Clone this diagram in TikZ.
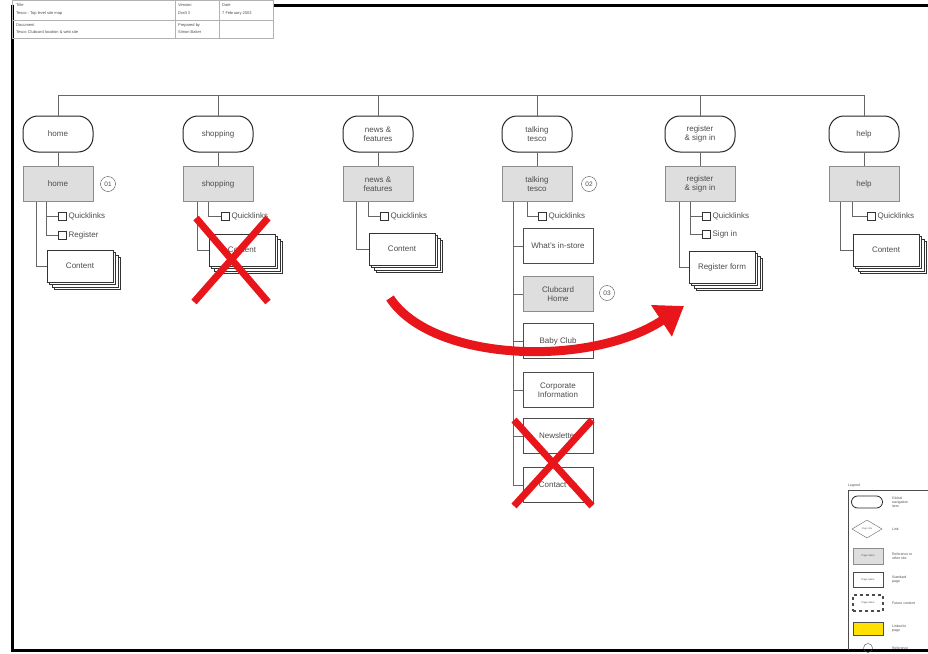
\documentclass[tikz,border=0pt]{standalone}
\usepackage{fontspec}
\setmainfont{Liberation Sans}
\usepackage{xcolor}
\usepackage{tikz}
\usetikzlibrary{shapes.geometric,shadows,arrows.meta,calc}
\definecolor{markred}{HTML}{E8151B}
\definecolor{sectgray}{HTML}{DEDEDE}
\definecolor{legyellow}{HTML}{FFE000}

\begin{document}
\begin{tikzpicture}[
    x=1pt, y=-1pt,
    term/.style={rectangle, draw=black!85, line width=1pt, rounded corners=15pt, fill=white, minimum width=70pt, minimum height=36pt, align=center, font=\fontsize{8}{9}\selectfont, text=black!70},
    sect/.style={rectangle, draw=black!45, fill=sectgray, minimum width=70pt, minimum height=35pt, align=center, font=\fontsize{8}{9}\selectfont, text=black!70},
    page/.style={rectangle, draw=black!70, line width=0.9pt, fill=white, minimum width=70pt, minimum height=35pt, align=center, font=\fontsize{8}{9}\selectfont, text=black!70},
    stack/.style={rectangle, draw=black!80, fill=white, minimum width=66pt, minimum height=32pt, font=\fontsize{8}{9}\selectfont, text=black!70,
        copy shadow={shadow xshift=7.5pt, shadow yshift=-7.5pt},
        copy shadow={shadow xshift=5pt, shadow yshift=-5pt},
        copy shadow={shadow xshift=2.5pt, shadow yshift=-2.5pt}},
    chk/.style={rectangle, draw=black!80, fill=white, minimum size=8.5pt, inner sep=0pt},
    lbl/.style={font=\fontsize{8}{9}\selectfont, text=black!70, inner sep=2pt},
    ref/.style={circle, draw=black!70, minimum size=15pt, inner sep=0pt, font=\fontsize{6.5}{7}\selectfont, text=black!70},
    line/.style={draw=black!60, line width=0.6pt},
    cross/.style={draw=markred, line width=7pt},
    bigarrow/.style={draw=markred, line width=9pt, -{Triangle[length=27pt,width=36pt]}},
    tbl/.style={draw=black!30, line width=0.4pt},
    tbltxt/.style={anchor=west, font=\fontsize{4}{4.5}\selectfont, text=black!70, inner sep=0pt},
    legtxt/.style={anchor=west, font=\fontsize{3.5}{4}\selectfont, text=black!70, inner sep=0pt, align=left}
]
\useasboundingbox (0,0) rectangle (928,653);

% Frame and title block
\draw[line width=3pt] (273,5) -- (928,5);
\draw[line width=3pt] (12,5) -- (12,650) -- (928,650);
\draw[tbl] (12,0) rectangle (273,38);
\draw[tbl] (12,20) -- (273,20);
\draw[tbl] (175,0) -- (175,38);
\draw[tbl] (219,0) -- (219,38);
\node[tbltxt] at (16,5) {Title};
\node[tbltxt] at (16,13) {Tesco - Top level site map};
\node[tbltxt] at (16,25) {Document};
\node[tbltxt] at (16,32) {Tesco Clubcard location \& web site};
\node[tbltxt] at (178,5) {Version};
\node[tbltxt] at (178,13) {Draft 3};
\node[tbltxt] at (222,5) {Date};
\node[tbltxt] at (222,13) {7 February 2003};
\node[tbltxt] at (178,25) {Prepared by};
\node[tbltxt] at (178,32) {Simon Baker};

% Global navigation
\node[term] (homeT) at (58,134) {home};
\node[term] (shopT) at (218,134) {shopping};
\node[term] (newsT) at (378,134) {news \&\\features};
\node[term] (talkT) at (537,134) {talking\\tesco};
\node[term] (regT) at (700,134) {register\\\& sign in};
\node[term] (helpT) at (864,134) {help};
\coordinate (busL) at (58,95);
\coordinate (busR) at (864,95);
\draw[line] (homeT.north) -- (busL) -- (busR) -- (helpT.north);
\draw[line] (shopT.north) -- (shopT.north |- busL);
\draw[line] (newsT.north) -- (newsT.north |- busL);
\draw[line] (talkT.north) -- (talkT.north |- busL);
\draw[line] (regT.north) -- (regT.north |- busL);

% Section pages
\node[sect] (homeP) at (58,184) {home};
\node[sect] (shopP) at (218,184) {shopping};
\node[sect] (newsP) at (378,184) {news \&\\features};
\node[sect] (talkP) at (537,184) {talking\\tesco};
\node[sect] (regP) at (700,184) {register\\\& sign in};
\node[sect] (helpP) at (864,184) {help};
\draw[line] (homeT) -- (homeP);
\draw[line] (shopT) -- (shopP);
\draw[line] (newsT) -- (newsP);
\draw[line] (talkT) -- (talkP);
\draw[line] (regT) -- (regP);
\draw[line] (helpT) -- (helpP);
\node[ref] (ref01) at (108,184) {01};
\node[ref] (ref02) at (589,184) {02};

% home
\node[chk, label={[lbl]right:Quicklinks}] (homeQ) at (62,216) {};
\node[chk, label={[lbl]right:Register}] (homeR) at (62,235) {};
\node[stack] (homeC) at (80,266) {Content};
\draw[line] ([xshift=-12pt]homeP.south) |- (homeR);
\draw[line] ([xshift=-12pt]homeP.south) |- (homeQ);
\draw[line] ([xshift=-22pt]homeP.south) |- (homeC);

% shopping
\node[chk, label={[lbl]right:Quicklinks}] (shopQ) at (225,216) {};
\node[stack] (shopC) at (242,250) {Content};
\draw[line] ([xshift=-10pt]shopP.south) |- (shopQ);
\draw[line] ([xshift=-21pt]shopP.south) |- (shopC);

% news & features
\node[chk, label={[lbl]right:Quicklinks}] (newsQ) at (384,216) {};
\node[stack] (newsC) at (402,249) {Content};
\draw[line] ([xshift=-10pt]newsP.south) |- (newsQ);
\draw[line] ([xshift=-22pt]newsP.south) |- (newsC);

% talking tesco
\node[chk, label={[lbl]right:Quicklinks}] (talkQ) at (542,216) {};
\node[page] (talk1) at (558,246) {What's in-store};
\node[sect] (talk2) at (558,294) {Clubcard\\Home};
\node[page] (talk3) at (558,341) {Baby Club};
\node[page] (talk4) at (558,390) {Corporate\\Information};
\node[page] (talk5) at (558,436) {Newsletter};
\node[page] (talk6) at (558,485) {Contact us};
\node[ref] (ref03) at (607,293) {03};
\coordinate (talkS) at ([xshift=-24pt]talkP.south);
\draw[line] ([xshift=-10pt]talkP.south) |- (talkQ);
\draw[line] (talkS) |- (talk6);
\draw[line] (talk1.west) -- (talk1.west -| talkS);
\draw[line] (talk2.west) -- (talk2.west -| talkS);
\draw[line] (talk3.west) -- (talk3.west -| talkS);
\draw[line] (talk4.west) -- (talk4.west -| talkS);
\draw[line] (talk5.west) -- (talk5.west -| talkS);

% register & sign in
\node[chk, label={[lbl]right:Quicklinks}] (regQ) at (706,216) {};
\node[chk, label={[lbl]right:Sign in}] (regS) at (706,234) {};
\node[stack] (regC) at (722,267) {Register form};
\draw[line] ([xshift=-10pt]regP.south) |- (regS);
\draw[line] ([xshift=-10pt]regP.south) |- (regQ);
\draw[line] ([xshift=-21pt]regP.south) |- (regC);

% help
\node[chk, label={[lbl]right:Quicklinks}] (helpQ) at (871,216) {};
\node[stack] (helpC) at (886,250) {Content};
\draw[line] ([xshift=-12pt]helpP.south) |- (helpQ);
\draw[line] ([xshift=-24pt]helpP.south) |- (helpC);

% Removed sections
\draw[cross] (196,218) -- (268,302);
\draw[cross] (268,218) -- (194,302);
\draw[cross] (514,420) -- (592,506);
\draw[cross] (592,420) -- (514,506);

% Moved content
\coordinate (moveS) at (390,298);
\coordinate (moveE) at (684,306);
\draw[bigarrow] (moveS) .. controls (432,362) and (590,368) .. (moveE);

% Legend
\node[anchor=west, font=\fontsize{3.5}{4}\selectfont, text=black!70, inner sep=0pt] at (848,486) {Legend};
\draw[line width=0.6pt, black!70] (928,490) -- (848,490) -- (848,650);
\node[term, minimum width=31pt, minimum height=12pt, rounded corners=6pt, line width=0.8pt] (lgTerm) at (867,502) {};
\node[diamond, draw=black!60, minimum width=30pt, minimum height=18pt, inner sep=0pt, font=\fontsize{2.5}{3}\selectfont, text=black!60] (lgLink) at (867,529) {Page title};
\node[sect, minimum width=30pt, minimum height=16pt, font=\fontsize{2.5}{3}\selectfont] (lgSect) at (868,556) {Page name};
\node[page, minimum width=30pt, minimum height=15pt, line width=0.7pt, font=\fontsize{2.5}{3}\selectfont] (lgPage) at (868,580) {Page name};
\node[page, dashed, minimum width=30pt, minimum height=16pt, line width=1.2pt, font=\fontsize{2.5}{3}\selectfont] (lgFut) at (868,603) {Page name};
\node[rectangle, draw=black!70, fill=legyellow, minimum width=30pt, minimum height=13pt] (lgLink2) at (868,629) {};
\node[ref, minimum size=9pt] (lgRef) at (868,648) {};
\node[legtxt] at (892,502) {Global\\navigation\\item};
\node[legtxt] at (892,529) {Link};
\node[legtxt] at (892,556) {Reference to\\other site};
\node[legtxt] at (892,580) {Standard\\page};
\node[legtxt] at (892,603) {Future content};
\node[legtxt] at (892,629) {Linked to\\page};
\node[legtxt] at (892,648) {Reference};

\end{tikzpicture}
\end{document}
